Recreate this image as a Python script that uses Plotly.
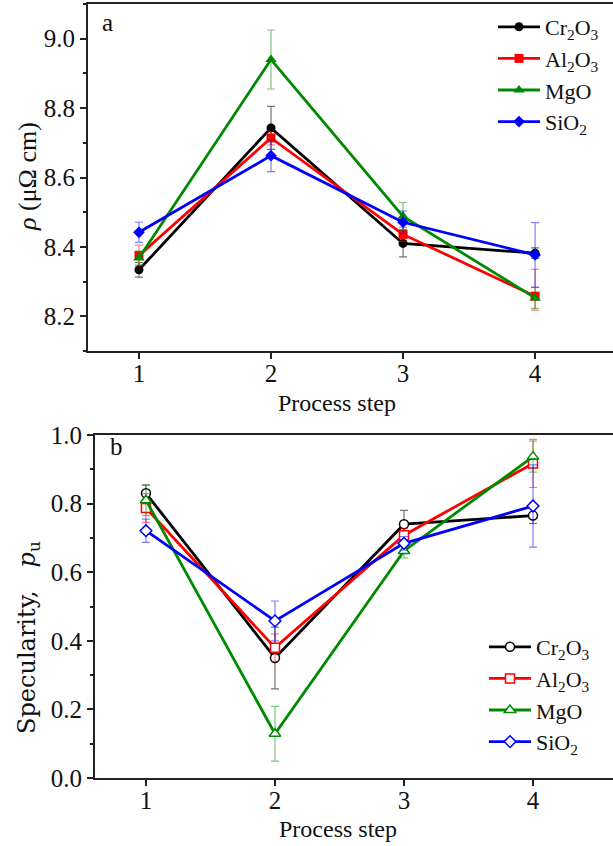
import plotly.graph_objects as go

# ---------------- data ----------------
steps = [1, 2, 3, 4]
series_names = ["Cr<sub>2</sub>O<sub>3</sub>", "Al<sub>2</sub>O<sub>3</sub>", "MgO", "SiO<sub>2</sub>"]

rho_cr = [8.334, 8.743, 8.410, 8.382]
rho_cr_err = [0.021, 0.062, 0.039, 0.015]
rho_al = [8.375, 8.714, 8.436, 8.258]
rho_al_err_plus = [0.030, 0.020, 0.020, 0.077]
rho_al_err_minus = [0.030, 0.020, 0.020, 0.040]
rho_mg = [8.368, 8.940, 8.488, 8.253]
rho_mg_err = [0.020, 0.085, 0.040, 0.030]
rho_si = [8.442, 8.663, 8.471, 8.377]
rho_si_err = [0.029, 0.046, 0.032, 0.093]

spec_cr = [0.830, 0.350, 0.740, 0.765]
spec_cr_err = [0.024, 0.090, 0.040, 0.023]
spec_al = [0.787, 0.380, 0.708, 0.917]
spec_al_err = [0.042, 0.040, 0.020, 0.070]
spec_mg = [0.810, 0.129, 0.662, 0.937]
spec_mg_err = [0.045, 0.080, 0.020, 0.045]
spec_si = [0.721, 0.458, 0.684, 0.793]
spec_si_err = [0.034, 0.058, 0.020, 0.120]

x_ticks = [1, 2, 3, 4]
rho_ticks = [8.2, 8.4, 8.6, 8.8, 9.0]
spec_ticks = [0.0, 0.2, 0.4, 0.6, 0.8, 1.0]

colors = ["#000000", "#ff0000", "#008a00", "#0000ff"]
err_colors = ["rgba(0,0,0,0.55)", "rgba(255,0,0,0.5)", "rgba(0,138,0,0.5)", "rgba(0,0,255,0.5)"]
symbols_a = ["circle", "square", "triangle-up", "diamond"]
symbols_b = ["circle", "square", "triangle-up", "diamond"]

FONT = "Liberation Serif"
W, H = 613, 846

fig = go.Figure()

rho_vals = [rho_cr, rho_al, rho_mg, rho_si]
rho_plus = [rho_cr_err, rho_al_err_plus, rho_mg_err, rho_si_err]
rho_minus = [rho_cr_err, rho_al_err_minus, rho_mg_err, rho_si_err]
for i in range(4):
    fig.add_trace(go.Scatter(
        x=steps, y=rho_vals[i], name=series_names[i], mode="lines+markers",
        line=dict(color=colors[i], width=2.8),
        marker=dict(symbol=symbols_a[i], size=9 if i != 2 else 10, color=colors[i]),
        error_y=dict(type="data", array=rho_plus[i], arrayminus=rho_minus[i],
                     color=err_colors[i], thickness=1.2, width=4),
        xaxis="x", yaxis="y", legend="legend",
    ))

spec_vals = [spec_cr, spec_al, spec_mg, spec_si]
spec_errs = [spec_cr_err, spec_al_err, spec_mg_err, spec_si_err]
for i in range(4):
    fig.add_trace(go.Scatter(
        x=steps, y=spec_vals[i], name=series_names[i], mode="lines+markers",
        line=dict(color=colors[i], width=2.8),
        marker=dict(symbol=symbols_b[i], size=9 if i != 2 else 10, color="white",
                    line=dict(color=colors[i], width=1.5)),
        error_y=dict(type="data", array=spec_errs[i],
                     color=err_colors[i], thickness=1.2, width=4),
        xaxis="x2", yaxis="y2", legend="legend2",
    ))

axis_common = dict(
    showline=True, linecolor="#222", linewidth=2, ticks="outside", ticklen=6,
    tickwidth=2, tickcolor="#222", showgrid=False, zeroline=False, automargin=False,
    tickfont=dict(family=FONT, size=25, color="#111"),
)

fig.update_layout(
    width=W, height=H, margin=dict(l=0, r=0, t=0, b=0, autoexpand=False),
    paper_bgcolor="white", plot_bgcolor="white",
    font=dict(family=FONT, size=22, color="#111"),
    xaxis=dict(domain=[88 / W, 1.0], range=[0.614, 4.59], tickvals=x_ticks,
               mirror=True, anchor="y", ticklabelstandoff=-7, **axis_common),
    yaxis=dict(domain=[1 - 351 / H, 1 - 4 / H], range=[8.1, 9.1], tickvals=rho_ticks,
               tickformat=".1f", anchor="x",
               minor=dict(ticks="outside", ticklen=3, tickwidth=2, tickcolor="#222", dtick=0.1, showgrid=False),
               **axis_common),
    xaxis2=dict(domain=[95 / W, 1.0], range=[0.605, 4.62], tickvals=x_ticks,
                mirror=True, anchor="y2", ticklabelstandoff=-7, **axis_common),
    yaxis2=dict(domain=[1 - 778 / H, 1 - 435 / H], range=[0, 1.0], tickvals=spec_ticks,
                tickformat=".1f", anchor="x2",
                minor=dict(ticks="outside", ticklen=3, tickwidth=2, tickcolor="#222", dtick=0.1, showgrid=False),
                **axis_common),
    legend=dict(x=493 / W, y=1 - 6 / H, xanchor="left", yanchor="top",
                bgcolor="rgba(0,0,0,0)", itemwidth=42, tracegroupgap=0,
                font=dict(family=FONT, size=22)),
    legend2=dict(x=484 / W, y=1 - 626 / H, xanchor="left", yanchor="top",
                 bgcolor="rgba(0,0,0,0)", itemwidth=42, tracegroupgap=0,
                 font=dict(family=FONT, size=22)),
    showlegend=True,
)

def ann(text, x, y, size=25, angle=0, family=FONT):
    fig.add_annotation(text=text, x=x / W, y=1 - y / H, xref="paper", yref="paper",
                       xanchor="center", yanchor="middle", textangle=angle,
                       showarrow=False, font=dict(family=family, size=size, color="#111"))

ann("<i>ρ</i> (μΩ cm)", 27, 177, 26, -90)
ann("Specularity,   <i>p</i><sub>u</sub>", 28, 638, 24, -90, "DejaVu Serif")
ann("Process step", 337, 403, 24)
ann("Process step", 338, 829, 24)
ann("a", 107, 22, 25)
ann("b", 117, 446, 25)

fig.write_html("out.html", config={"displayModeBar": False},
               post_script="document.body.style.margin='0';document.body.style.padding='0';")
